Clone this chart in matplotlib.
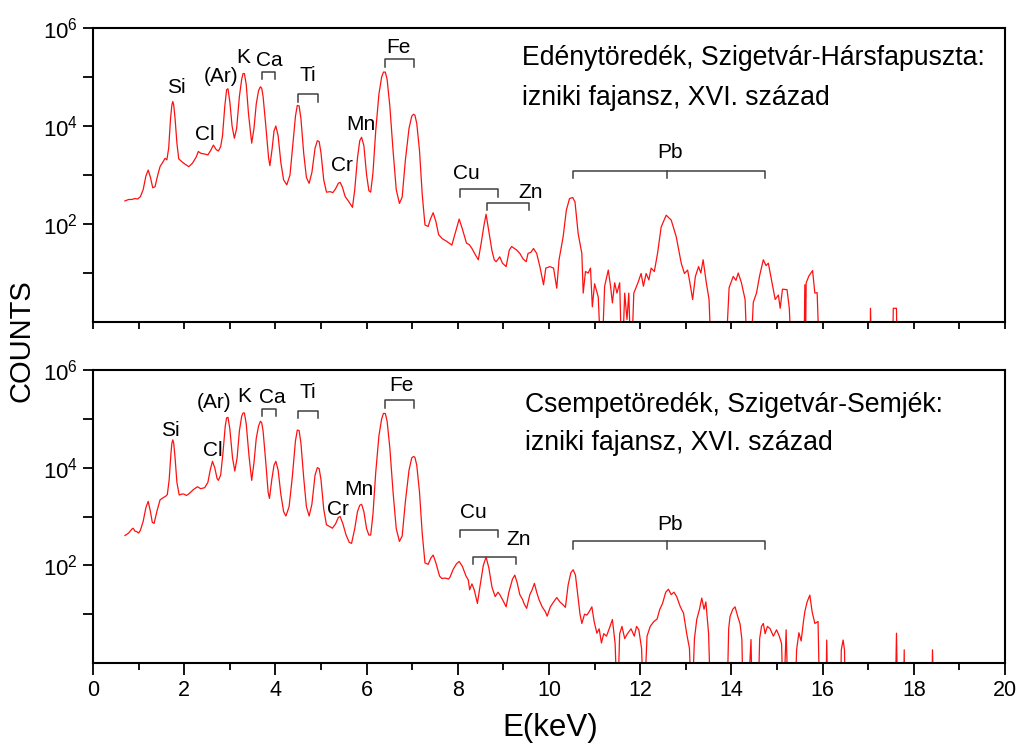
import numpy as np
import matplotlib
matplotlib.use("Agg")
import matplotlib.pyplot as plt
from matplotlib.ticker import FixedLocator, MultipleLocator

plt.rcParams["font.family"] = ["Liberation Sans", "DejaVu Sans"]
plt.rcParams["mathtext.default"] = "regular"

# spectra: (energy keV, log10 counts); -1 = no counts (off the axis)
top_spectrum = [
    (0.70, 2.47), (0.78, 2.50), (0.85, 2.50), (0.92, 2.52), (0.98, 2.51), (1.04, 2.56),
    (1.10, 2.70), (1.16, 2.98), (1.21, 3.10), (1.26, 2.95), (1.31, 2.74), (1.36, 2.76),
    (1.42, 3.00), (1.47, 3.17), (1.53, 3.26), (1.58, 3.34), (1.62, 3.31), (1.66, 3.55),
    (1.70, 4.15), (1.73, 4.43), (1.75, 4.50), (1.77, 4.43), (1.80, 4.15), (1.84, 3.65),
    (1.88, 3.33), (1.95, 3.27),
    (2.02, 3.22), (2.10, 3.17), (2.18, 3.24), (2.26, 3.36), (2.31, 3.48), (2.37, 3.44),
    (2.44, 3.43), (2.52, 3.41), (2.58, 3.50), (2.64, 3.61), (2.70, 3.52), (2.75, 3.49),
    (2.80, 3.58), (2.84, 3.80), (2.89, 4.40), (2.93, 4.74), (2.96, 4.76), (3.00, 4.50),
    (3.05, 4.00), (3.10, 3.75), (3.15, 3.95), (3.21, 4.60), (3.26, 4.95), (3.29, 5.07),
    (3.32, 5.07), (3.36, 4.85), (3.41, 4.25), (3.48, 3.65), (3.53, 3.95), (3.58, 4.45),
    (3.63, 4.72), (3.67, 4.80), (3.70, 4.77), (3.73, 4.60), (3.79, 4.00), (3.85, 3.35),
    (3.88, 3.19), (3.93, 3.55), (3.97, 3.90), (4.01, 4.00), (4.06, 3.80), (4.12, 3.25),
    (4.18, 2.90), (4.25, 2.80), (4.32, 3.00), (4.38, 3.60), (4.44, 4.20), (4.48, 4.42),
    (4.52, 4.41), (4.56, 4.15), (4.62, 3.45), (4.68, 2.95), (4.74, 2.83), (4.80, 3.05),
    (4.87, 3.55), (4.92, 3.70), (4.96, 3.68), (5.00, 3.45), (5.06, 2.90),
    (5.12, 2.65), (5.20, 2.66), (5.26, 2.64), (5.32, 2.72), (5.38, 2.83), (5.42, 2.85),
    (5.47, 2.75), (5.53, 2.56), (5.60, 2.47), (5.69, 2.34), (5.74, 2.70), (5.80, 3.35),
    (5.85, 3.70), (5.89, 3.77), (5.94, 3.60), (6.00, 3.00), (6.05, 2.68), (6.09, 2.65),
    (6.14, 3.05), (6.20, 3.90), (6.27, 4.65), (6.33, 5.00), (6.37, 5.10), (6.41, 5.10),
    (6.45, 4.95), (6.51, 4.40), (6.58, 3.50), (6.65, 2.70), (6.72, 2.42), (6.78, 2.55),
    (6.85, 3.30), (6.93, 3.95), (6.99, 4.20), (7.03, 4.24), (7.06, 4.22), (7.10, 4.05),
    (7.16, 3.50), (7.22, 2.60),
    (7.28, 1.98), (7.35, 1.95), (7.40, 2.10), (7.46, 2.23), (7.52, 2.05), (7.58, 1.78),
    (7.66, 1.70), (7.75, 1.65), (7.87, 1.57), (7.94, 1.80), (8.03, 2.10), (8.10, 1.90),
    (8.19, 1.61), (8.25, 1.58), (8.31, 1.50), (8.38, 1.38), (8.45, 1.27), (8.52, 1.65),
    (8.57, 1.95), (8.62, 2.20), (8.68, 1.85), (8.75, 1.45), (8.80, 1.27), (8.84, 1.23),
    (8.92, 1.33), (8.98, 1.20), (9.06, 1.13), (9.13, 1.47), (9.18, 1.54), (9.29, 1.47),
    (9.36, 1.40), (9.43, 1.29), (9.50, 1.23), (9.54, 1.40), (9.60, 1.42), (9.66, 1.50),
    (9.73, 1.40), (9.80, 1.13), (9.88, 0.76), (9.93, 1.10), (10.02, 1.13), (10.10, 1.10),
    (10.17, 0.69), (10.22, 1.27), (10.31, 1.74), (10.38, 2.28), (10.45, 2.52), (10.52, 2.54),
    (10.57, 2.45), (10.64, 1.80), (10.72, 1.40), (10.75, 0.59), (10.80, 1.03), (10.86, 1.00),
    (10.91, 1.10), (10.95, 0.31), (11.00, 0.78), (11.08, 0.51), (11.15, -1), (11.22, 0.73),
    (11.30, 1.06), (11.35, 0.73), (11.39, 0.39), (11.44, 0.80), (11.49, 0.59), (11.55, 0.80),
    (11.60, -1), (11.66, 0.59), (11.71, 0.05), (11.75, 0.59), (11.80, -1), (11.86, 0.59),
    (11.95, 0.80), (12.02, 0.99), (12.07, 0.73), (12.13, 0.99), (12.19, 0.86), (12.24, 1.10),
    (12.31, 1.03), (12.38, 1.40), (12.46, 1.94), (12.57, 2.18), (12.68, 2.08), (12.79, 1.74),
    (12.90, 1.20), (12.97, 0.99), (13.04, 1.06), (13.09, 0.80), (13.15, 0.46), (13.21, 0.93),
    (13.28, 1.13), (13.33, 1.00), (13.38, 1.27), (13.45, 0.80), (13.51, 0.46), (13.57, -1),
    (13.86, -1), (13.95, 0.70), (14.04, 0.93), (14.10, 0.85), (14.15, 1.00), (14.22, 0.80),
    (14.30, 0.46), (14.36, -1), (14.41, -1), (14.48, 0.40), (14.55, 0.59), (14.62, 0.95),
    (14.70, 1.27), (14.76, 1.15), (14.81, 1.20), (14.88, 0.85), (14.96, 0.46), (15.03, 0.55),
    (15.07, 0.28), (15.12, 0.67), (15.22, 0.66), (15.27, 0.28), (15.33, -1), (15.59, -1),
    (15.61, 0.76), (15.62, -1), (15.64, 0.80), (15.70, 0.94), (15.78, 1.05), (15.83, 0.59),
    (15.88, 0.60), (15.94, -1), (17.04, -1), (17.05, 0.28), (17.08, -1), (17.53, -1),
    (17.55, 0.28), (17.62, 0.28), (17.64, -1),
]

bottom_spectrum = [
    (0.70, 2.61), (0.78, 2.66), (0.85, 2.74), (0.88, 2.76), (0.92, 2.70), (0.96, 2.69),
    (1.00, 2.66), (1.04, 2.72), (1.10, 2.90), (1.16, 3.18), (1.21, 3.31), (1.26, 3.10),
    (1.30, 2.88), (1.34, 2.86), (1.40, 3.10), (1.47, 3.34), (1.53, 3.38), (1.60, 3.42),
    (1.63, 3.45), (1.67, 3.75), (1.71, 4.30), (1.73, 4.50), (1.75, 4.57), (1.77, 4.50),
    (1.80, 4.20), (1.84, 3.70),
    (1.89, 3.44), (1.95, 3.46), (1.99, 3.46), (2.05, 3.43), (2.11, 3.47), (2.20, 3.55),
    (2.29, 3.61), (2.36, 3.57), (2.45, 3.59), (2.52, 3.70), (2.57, 3.95), (2.62, 4.13),
    (2.67, 4.00), (2.72, 3.78), (2.75, 3.74), (2.80, 3.85), (2.85, 4.30), (2.90, 4.85),
    (2.93, 5.02), (2.96, 5.03), (3.00, 4.80), (3.06, 4.20), (3.11, 3.93), (3.16, 4.20),
    (3.21, 4.75), (3.26, 5.05), (3.29, 5.12), (3.32, 5.12), (3.36, 4.90), (3.42, 4.25),
    (3.48, 3.74), (3.53, 4.10), (3.58, 4.60), (3.63, 4.85), (3.67, 4.95), (3.70, 4.92),
    (3.73, 4.75), (3.79, 4.10), (3.84, 3.50),
    (3.87, 3.37), (3.92, 3.75), (3.97, 4.05), (4.01, 4.13), (4.06, 3.95), (4.12, 3.45),
    (4.18, 3.10), (4.23, 3.01), (4.30, 3.20), (4.37, 3.80), (4.44, 4.55), (4.48, 4.77),
    (4.52, 4.76), (4.56, 4.50), (4.62, 3.80), (4.68, 3.20), (4.74, 3.01), (4.80, 3.25),
    (4.87, 3.85), (4.92, 4.00), (4.96, 3.98), (5.00, 3.75), (5.06, 3.15), (5.12, 2.83),
    (5.18, 2.80), (5.25, 2.76),
    (5.32, 2.85), (5.38, 2.98), (5.42, 3.00), (5.48, 2.85), (5.55, 2.62), (5.62, 2.47),
    (5.67, 2.45), (5.74, 2.75), (5.80, 3.10), (5.85, 3.23), (5.89, 3.25), (5.94, 3.10),
    (6.00, 2.75), (6.05, 2.62), (6.09, 2.62), (6.14, 3.05), (6.20, 3.90), (6.27, 4.65),
    (6.33, 5.00), (6.37, 5.11), (6.41, 5.11), (6.45, 4.95), (6.51, 4.40), (6.58, 3.50),
    (6.65, 2.75), (6.72, 2.49), (6.78, 2.60), (6.85, 3.30), (6.93, 3.95), (6.99, 4.20),
    (7.03, 4.23), (7.06, 4.21),
    (7.10, 4.05), (7.16, 3.50), (7.22, 2.65), (7.28, 2.05), (7.35, 2.02), (7.41, 2.15),
    (7.46, 2.21), (7.52, 2.05), (7.60, 1.78), (7.65, 1.73), (7.72, 1.74), (7.80, 1.72),
    (7.83, 1.76), (7.90, 1.92), (7.97, 2.03), (8.03, 2.08), (8.10, 1.98), (8.18, 1.78),
    (8.23, 1.70), (8.26, 1.50), (8.31, 1.62), (8.36, 1.50), (8.43, 1.22), (8.50, 1.65),
    (8.56, 2.00), (8.62, 2.17), (8.68, 1.95), (8.75, 1.55), (8.82, 1.36), (8.88, 1.45),
    (8.92, 1.40), (8.98, 1.30), (9.06, 1.15), (9.12, 1.45), (9.20, 1.72), (9.25, 1.80),
    (9.30, 1.65), (9.36, 1.40), (9.42, 1.30), (9.46, 1.20), (9.51, 1.12), (9.58, 1.40),
    (9.63, 1.50), (9.68, 1.63), (9.73, 1.45), (9.78, 1.30), (9.85, 1.15), (9.92, 1.05),
    (9.96, 0.96), (10.03, 1.15), (10.10, 1.25), (10.17, 1.34), (10.24, 1.25), (10.30, 1.20),
    (10.36, 1.14), (10.42, 1.60), (10.48, 1.85), (10.53, 1.91), (10.58, 1.80), (10.63, 1.40),
    (10.68, 1.00), (10.72, 0.81), (10.78, 1.00), (10.83, 0.98), (10.88, 1.05), (10.94, 1.15),
    (10.99, 0.85), (11.05, 0.61), (11.10, 0.70), (11.15, 0.41), (11.20, 0.60), (11.26, 0.55),
    (11.32, 0.70), (11.39, 0.89), (11.45, 0.40), (11.50, -1), (11.55, 0.60), (11.60, 0.75),
    (11.66, 0.50), (11.72, 0.60), (11.80, 0.70), (11.87, 0.55), (11.92, 0.75), (11.97, 0.68),
    (12.03, 0.30), (12.08, -1), (12.15, 0.55), (12.22, 0.75), (12.30, 0.85), (12.37, 0.90),
    (12.43, 1.10), (12.49, 1.22), (12.56, 1.45), (12.62, 1.51), (12.68, 1.40), (12.74, 1.45),
    (12.80, 1.36), (12.88, 1.15), (12.95, 1.02), (13.02, 0.60), (13.08, 0.30), (13.13, -1),
    (13.19, 0.50), (13.24, 0.89), (13.30, 1.10), (13.35, 1.33), (13.40, 1.10), (13.44, 1.25),
    (13.50, 0.60), (13.55, -1), (13.90, -1), (13.94, 0.70), (13.97, 0.95), (14.03, 1.10),
    (14.08, 1.15), (14.14, 0.95), (14.19, 0.80), (14.23, 0.48), (14.26, -1), (14.35, -1),
    (14.43, 0.48), (14.46, -1), (14.58, -1), (14.62, 0.50), (14.66, 0.75), (14.70, 0.81),
    (14.74, 0.60), (14.79, 0.75), (14.85, 0.70), (14.92, 0.55), (14.99, 0.68), (15.05, 0.55),
    (15.10, 0.40), (15.14, -1), (15.20, 0.68), (15.25, -1), (15.39, -1), (15.43, 0.27),
    (15.48, 0.62), (15.53, 0.45), (15.58, 0.85), (15.61, 1.05), (15.66, 1.25), (15.72, 1.39),
    (15.77, 1.05), (15.83, 0.81), (15.90, 0.85), (15.94, -1), (16.07, -1), (16.09, 0.47),
    (16.12, -1), (16.39, -1), (16.41, 0.27), (16.45, 0.47), (16.48, 0.27), (16.50, -1),
    (17.59, -1), (17.62, 0.61), (17.65, -1), (17.77, -1), (17.79, 0.27), (17.80, -1),
    (18.39, -1), (18.41, 0.27), (18.44, -1),
]

# element labels: (text, energy, log10 height)
top_labels = [("Si", 1.82, 4.78), ("Cl", 2.46, 3.82), ("(Ar)", 2.81, 5.02), ("K", 3.29, 5.39),
              ("Ca", 3.86, 5.33), ("Ti", 4.72, 5.04), ("Cr", 5.46, 3.20), ("Mn", 5.88, 4.04),
              ("Fe", 6.69, 5.61), ("Cu", 8.18, 3.04), ("Zn", 9.60, 2.64), ("Pb", 12.65, 3.45)]
bottom_labels = [("Si", 1.70, 4.76), ("Cl", 2.62, 4.35), ("(Ar)", 2.65, 5.33), ("K", 3.31, 5.46),
                 ("Ca", 3.94, 5.44), ("Ti", 4.70, 5.53), ("Cr", 5.38, 3.15), ("Mn", 5.84, 3.56),
                 ("Fe", 6.77, 5.68), ("Cu", 8.34, 3.08), ("Zn", 9.33, 2.53), ("Pb", 12.65, 2.83)]

# line brackets: (left, right, log10 top, middle tick or None)
top_brackets = [(3.70, 4.00, 5.11, None), (4.50, 4.93, 4.65, None), (6.40, 7.04, 5.36, None),
                (8.05, 8.88, 2.71, None), (8.63, 9.56, 2.43, None), (10.53, 14.74, 3.09, 12.58)]
bottom_brackets = [(3.70, 4.01, 5.20, None), (4.50, 4.94, 5.16, None), (6.40, 7.04, 5.38, None),
                   (8.05, 8.89, 2.73, None), (8.34, 9.28, 2.17, None), (10.53, 14.74, 2.49, 12.58)]

top_title = ["Edénytöredék, Szigetvár-Hársfapuszta:", "izniki fajansz, XVI. század"]
bottom_title = ["Csempetöredék, Szigetvár-Semjék:", "izniki fajansz, XVI. század"]

W, H = 1020, 749
fig = plt.figure(figsize=(W / 100, H / 100), dpi=100)
ax1 = fig.add_axes([93 / W, 1 - 322 / H, 912 / W, 294 / H])
ax2 = fig.add_axes([93 / W, 1 - 663 / H, 912 / W, 293 / H])


def draw_panel(ax, spectrum, labels, brackets):
    e, lc = zip(*spectrum)
    ax.plot(e, 10 ** np.array(lc), color="#ff1010", lw=0.9)
    ax.set_yscale("log")
    ax.set_xlim(0, 20)
    ax.set_ylim(1, 1e6)
    for txt, x, y in labels:
        ax.text(x, 10 ** y, txt, ha="center", va="center", fontsize=15)
    for x0, x1, yt, mid in brackets:
        yb = 10 ** (yt - 0.15)
        ax.plot([x0, x0, x1, x1], [yb, 10 ** yt, 10 ** yt, yb], color="#404040", lw=1.1)
        if mid is not None:
            ax.plot([mid, mid], [yb, 10 ** yt], color="#404040", lw=1.1)
    ax.yaxis.set_major_locator(FixedLocator([10, 1e2, 1e3, 1e4, 1e5, 1e6]))
    ax.yaxis.set_minor_locator(FixedLocator([]))
    ax.set_yticklabels(["", "$10^2$", "", "$10^4$", "", "$10^6$"])
    ax.tick_params(axis="y", direction="out", length=7, width=1.3, labelsize=16, pad=4)
    for s in ax.spines.values():
        s.set_linewidth(1.5)


draw_panel(ax1, top_spectrum, top_labels, top_brackets)
draw_panel(ax2, bottom_spectrum, bottom_labels, bottom_brackets)

ax1.xaxis.set_major_locator(MultipleLocator(1))
ax1.tick_params(axis="x", direction="out", length=5, width=1.3, labelbottom=False)

ax2.xaxis.set_major_locator(MultipleLocator(2))
ax2.xaxis.set_minor_locator(MultipleLocator(1))
ax2.tick_params(axis="x", which="major", direction="out", length=8.5, width=1.3,
                labelsize=15.5, pad=4)
ax2.tick_params(axis="x", which="minor", direction="out", length=5, width=1.3)

for i, line in enumerate(top_title):
    fig.text(522 / W, 1 - (58 + 40 * i) / H, line, fontsize=19.2, va="center", ha="left")
for i, line in enumerate(bottom_title):
    fig.text(525 / W, 1 - (405 + 38 * i) / H, line, fontsize=19.2, va="center", ha="left")

fig.text(22 / W, 1 - 341 / H, "COUNTS", rotation=90, fontsize=21, va="center", ha="center")
fig.text(550 / W, 1 - 728 / H, "E(keV)", fontsize=22.5, va="center", ha="center")

fig.savefig("out.png", dpi=100)
